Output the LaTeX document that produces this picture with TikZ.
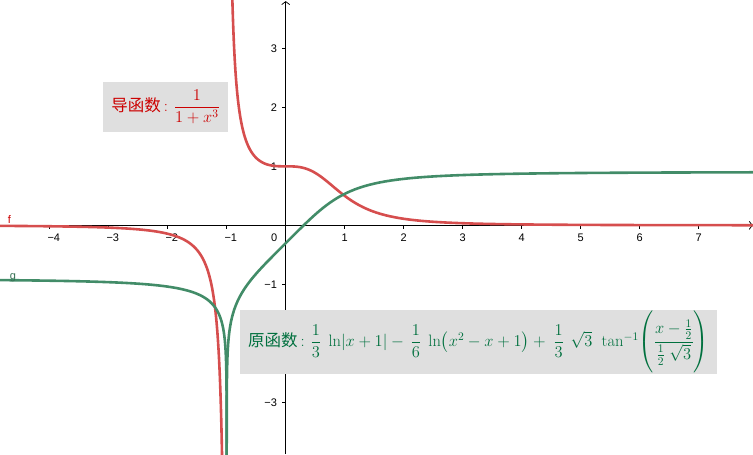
\RequirePackage{fix-cm}
\documentclass[tikz,border=0pt]{standalone}
\usepackage{amsmath}
\usepackage{fontspec}
\usetikzlibrary{arrows.meta}
\newfontfamily\cjk{Noto Sans CJK SC}
\newfontfamily\axisfont{Liberation Sans}
\definecolor{fred}{RGB}{214,78,78}
\definecolor{fgreen}{RGB}{66,140,104}
\definecolor{tred}{RGB}{204,0,0}
\definecolor{tgreen}{RGB}{0,112,62}
\definecolor{boxgray}{RGB}{223,223,223}
\begin{document}
\begin{tikzpicture}[x=59pt,y=59pt,
  declare function={ff(\x)=1/(1+\x*\x*\x);
    gl(\u,\v)=\u/3-ln(\v*\v-\v+1)/6+sqrt(3)/3*rad(atan((2*\v-1)/sqrt(3)));},
  axisline/.style={line width=0.75pt, black},
  axisarrow/.style={axisline, -{Straight Barb[length=3pt,width=8pt]}},
  ticklabel/.style={font=\axisfont\fontsize{11}{13}\selectfont, inner sep=0pt},
  fcurve/.style={line width=2.6pt, fred, line join=round},
  gcurve/.style={line width=2.6pt, fgreen, line join=round},
  formulabox/.style={fill=boxgray, inner sep=0pt, font=\fontsize{16.5}{19}\selectfont}]
\useasboundingbox (-4.842,-3.876) rectangle (7.92,3.819);
% axes
\coordinate (xl) at (-4.842,0); \coordinate (xr) at (7.915,0);
\coordinate (yb) at (0,-3.876); \coordinate (yt) at (0,3.80);
\draw[axisarrow] (xl) -- (xr);
\draw[axisarrow] (yb) -- (yt);
\foreach \k in {-4,-3,-2,-1,1,2,3,4,5,6,7} \draw[axisline] (\k,0) -- (\k,-0.065);
\foreach \k in {-3,-2,-1,1,2,3} \draw[axisline] (0,\k) -- (-0.07,\k);
% x tick labels
\foreach \k/\s in {-4/4,-3/3,-2/2,-1/1}
  \node[ticklabel, anchor=base west] (xn\s) at (\k-0.04,-0.266) {−\s};
\foreach \k in {1,...,7}
  \node[ticklabel, anchor=base] (xp\k) at (\k,-0.266) {\k};
\node[ticklabel, anchor=base] (xzero) at (-0.195,-0.266) {0};
% y tick labels
\foreach \k in {1,2,3}
  \node[ticklabel, anchor=base east] (yp\k) at (-0.145,\k-0.068) {\k};
\foreach \k/\s in {-1/1,-3/3}
  \node[ticklabel, anchor=base east] (yn\s) at (-0.145,\k-0.068) {−\s};
% curves
\begin{scope}
\clip (-4.842,-3.876) rectangle (7.92,3.819);
\draw[fcurve] plot[variable=\t, domain=-2.8:1.36, samples=300] ({-1-exp(\t)},{ff(-1-exp(\t))});
\draw[fcurve] plot[variable=\t, domain=-2.6:2.2, samples=300] ({-1+exp(\t)},{ff(-1+exp(\t))});
\draw[gcurve] plot[variable=\t, domain=-12:1.36, samples=400] ({-1-exp(\t)},{gl(\t,-1-exp(\t))});
\draw[gcurve] plot[variable=\t, domain=-12:2.2, samples=400] ({-1+exp(\t)},{gl(\t,-1+exp(\t))});
\end{scope}
% function names
\node[ticklabel, text=tred, anchor=base west] (fname) at (-4.71,0.03) {f};
\node[ticklabel, text=fgreen!80!black, anchor=base west] (gname) at (-4.68,-0.91) {g};
% formula boxes
\node[formulabox, text=tred, minimum width=124.7pt, minimum height=50pt] (deriv) at (-2.035,2.010)
  {{\cjk 导函数}\hspace{3pt}:\hspace{6pt}$\dfrac{1}{1+x^3}$};
\node[formulabox, text=tgreen, minimum width=477pt, minimum height=64pt] (prim) at (3.268,-1.978)
  {{\cjk 原函数}\hspace{3pt}:\hspace{6pt}$\dfrac{1}{3}\;\ln\!|x+1|-\hspace{3pt}\dfrac{1}{6}\;\ln\!\left(x^2-x+1\right)+\hspace{4pt}\dfrac{1}{3}\hspace{2pt}\;\sqrt{3}\hspace{2pt}\;\tan^{-1}\!\left(\rule[-25pt]{0pt}{56pt}\dfrac{x-\frac{1}{2}}{\frac{1}{2}\;\sqrt{3}}\right)$};
\end{tikzpicture}
\end{document}
